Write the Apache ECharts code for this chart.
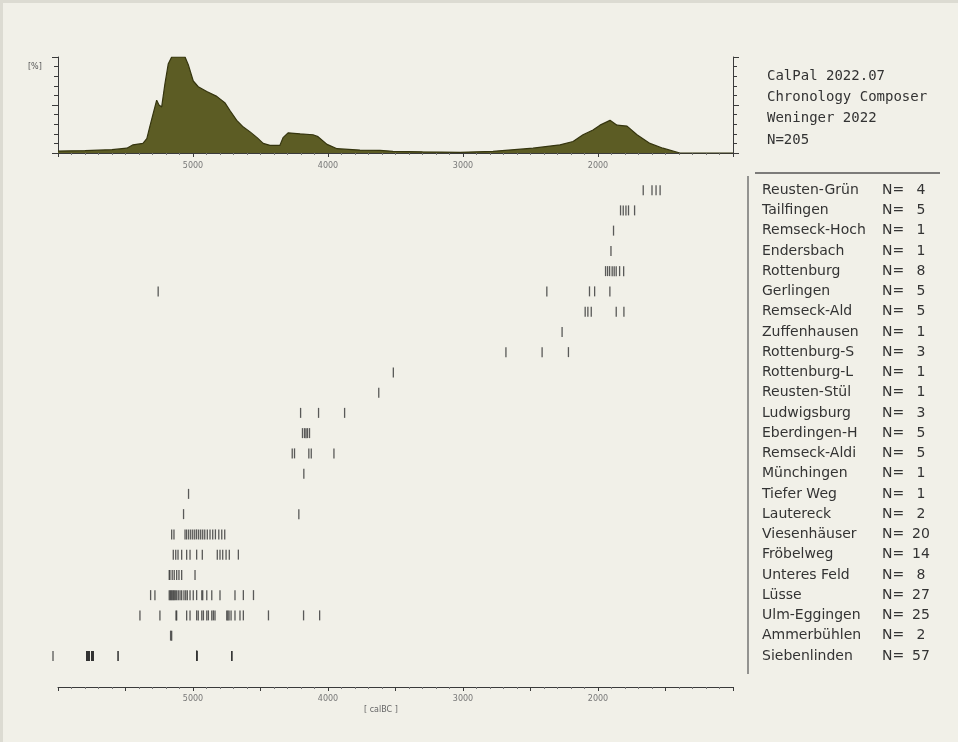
<!DOCTYPE html>
<html>
<head>
<meta charset="utf-8">
<script src="https://cdn.jsdelivr.net/npm/echarts@6/dist/echarts.min.js"></script>
<style>
html,body{margin:0;padding:0;background:#f1f0e8;}
#chart{width:958px;height:742px;}
</style>
</head>
<body>
<div id="chart"></div>
<script>
// ---- Summed probability density (calBC, % of peak) ----
const densityYears = [6000,5800,5600,5490,5444,5371,5342,5319,5297,5269,5252,5232,5208,5183,5158,5100,5059,5035,4998,4961,4898,4824,4762,4725,4676,4627,4577,4525,4480,4430,4356,4333,4296,4207,4111,4074,4007,3933,3763,3615,3519,3300,3022,2778,2481,2281,2185,2111,2037,1985,1911,1859,1785,1711,1615,1519,1393,1000];
const densityValues = [2,2.5,3.5,5,8.5,10,15,28,40,55,50,48,72,93,100,100,100,92,75,69,64,59,52,44,34,27,22,16,10,8,8,16,21,20,19,17,9,4.5,3,2.8,1.7,1.2,0.7,1.7,5,8.5,12,19,24,29,34,29,28,19,10,5,0,0];

// ---- Sites and counts ----
const siteNames = ['Reusten-Grün','Tailfingen','Remseck-Hoch','Endersbach','Rottenburg','Gerlingen','Remseck-Ald','Zuffenhausen','Rottenburg-S','Rottenburg-L','Reusten-Stül','Ludwigsburg','Eberdingen-H','Remseck-Aldi','Münchingen','Tiefer Weg','Lautereck','Viesenhäuser','Fröbelweg','Unteres Feld','Lüsse','Ulm-Eggingen','Ammerbühlen','Siebenlinden'];
const siteCounts = [4,5,1,1,8,5,5,1,3,1,1,3,5,5,1,1,2,20,14,8,27,25,2,57];

// ---- Dates per site (calBC) ----
const reustenGruen = [1665,1600,1570,1540];
const tailfingen = [1833,1813,1793,1774,1729];
const remseckHoch = [1885];
const endersbach = [1904];
const rottenburg = [1944,1929,1914,1895,1880,1865,1840,1810];
const gerlingen = [5258,2379,2063,2025,1912];
const remseckAld = [2095,2075,2050,1865,1808];
const zuffenhausen = [2266];
const rottenburgS = [2682,2414,2219];
const rottenburgL = [3516];
const reustenStuel = [3624];
const ludwigsburg = [4203,4070,3877];
const eberdingenH = [4189,4174,4163,4152,4137];
const remseckAldi = [4265,4248,4142,4124,3956];
const muenchingen = [4179];
const tieferWeg = [5033];
const lautereck = [5070,4216];
const viesenhaeuser = [5158,5141,5059,5047,5032,5017,5002,4987,4973,4958,4943,4928,4913,4894,4874,4854,4834,4809,4787,4765];
const froebelweg = [5146,5128,5111,5084,5047,5022,4973,4931,4820,4800,4780,4755,4731,4664];
const unteresFeld = [5176,5171,5154,5139,5121,5104,5084,4985];
const luesse = [5314,5282,5176,5168,5161,5154,5146,5139,5131,5121,5109,5096,5084,5067,5054,5042,5022,4998,4973,4935,4928,4898,4861,4800,4689,4627,4552];
const ulmEggingen = [5393,5245,5126,5121,5047,5022,4973,4961,4935,4923,4898,4886,4861,4849,4837,4750,4742,4733,4718,4689,4652,4627,4441,4181,4062];
const ammerbuehlen = [5166,5158];
const siebenlinden = [6037,
  5787,5787,5787,5787,5787,5787,5787,5787,5787,5787,5787,5787,
  5772,5772,5772,5772,5772,5772,5772,5772,5772,5772,
  5750,5750,5750,5750,5750,5750,5750,5750,5750,5750,5750,5750,
  5742,5742,5742,5742,5742,5742,5742,5742,
  5555,5555,
  4973,4973,4973,4973,4973,4973,4973,4973,
  4713,4713,4713];

const siteDates = [reustenGruen,tailfingen,remseckHoch,endersbach,rottenburg,gerlingen,remseckAld,zuffenhausen,rottenburgS,rottenburgL,reustenStuel,ludwigsburg,eberdingenH,remseckAldi,muenchingen,tieferWeg,lautereck,viesenhaeuser,froebelweg,unteresFeld,luesse,ulmEggingen,ammerbuehlen,siebenlinden];

const infoLines = ['CalPal 2022.07','Chronology Composer','Weninger 2022','N=205'];

// ---- build ----
const densityData = densityYears.map((y,i)=>[y,densityValues[i]]);
const tickData = [];
siteDates.forEach((arr,i)=>arr.forEach(v=>tickData.push([v,i])));

const chart = echarts.init(document.getElementById('chart'));
const axisCol = '#3a3a3a';
const lblCol = '#777';
const legendFont = '"DejaVu Sans", Arial';

const graphics = [
  {type:'rect', shape:{x:0,y:0,width:958,height:3}, style:{fill:'#dcdbd2'}, silent:true},
  {type:'rect', shape:{x:0,y:0,width:3,height:742}, style:{fill:'#dcdbd2'}, silent:true},
  {type:'line', shape:{x1:748,y1:176,x2:748,y2:674}, style:{stroke:'#555',lineWidth:1.2}, silent:true},
  {type:'line', shape:{x1:755,y1:173,x2:940,y2:173}, style:{stroke:'#555',lineWidth:1.5}, silent:true},
  {type:'text', left:28, top:63, style:{text:'[%]', fill:'#555', font:'8px "DejaVu Sans"'}},
  {type:'text', left:364, top:706, style:{text:'[ calBC ]', fill:'#666', font:'8px "DejaVu Sans"'}}
];
infoLines.forEach((t,i)=>{
  graphics.push({type:'text', left:767, top:69 + i*21.3, style:{text:t, fill:'#333', font:'14px "DejaVu Sans Mono"'}});
});

chart.setOption({
  backgroundColor:'#f1f0e8',
  animation:false,
  grid:[
    {left:58, width:675, top:57, height:96},
    {left:58, width:675, top:180, height:486}
  ],
  xAxis:[
    {gridIndex:0, type:'value', min:1000, max:6000, inverse:true, interval:1000,
     axisLine:{show:true, onZero:false, lineStyle:{color:axisCol,width:1}},
     axisTick:{show:true, length:4, lineStyle:{color:axisCol}},
     minorTick:{show:true, splitNumber:10, length:2, lineStyle:{color:'#777'}},
     axisLabel:{margin:9, fontSize:8, color:lblCol, fontFamily:'DejaVu Sans',
       formatter:v=> (v===6000||v===1000)?'':String(v)},
     splitLine:{show:false}},
    {gridIndex:1, type:'value', min:1000, max:6000, inverse:true, interval:500, position:'bottom', offset:21,
     axisLine:{show:true, onZero:false, lineStyle:{color:axisCol,width:1}},
     axisTick:{show:true, length:4, lineStyle:{color:axisCol}},
     minorTick:{show:true, splitNumber:5, length:2, lineStyle:{color:'#777'}},
     axisLabel:{margin:8, fontSize:8, color:lblCol, fontFamily:'DejaVu Sans',
       formatter:v=> (v%1000!==0||v===6000||v===1000)?'':String(v)},
     splitLine:{show:false}}
  ],
  yAxis:[
    {gridIndex:0, type:'value', min:0, max:100, interval:50, position:'left',
     axisLine:{show:true, lineStyle:{color:axisCol}},
     axisTick:{show:true, length:6, lineStyle:{color:axisCol}},
     minorTick:{show:true, splitNumber:5, length:4, lineStyle:{color:axisCol}},
     axisLabel:{show:false}, splitLine:{show:false}},
    {gridIndex:0, type:'value', min:0, max:100, interval:50, position:'right',
     axisLine:{show:true, lineStyle:{color:axisCol}},
     axisTick:{show:true, length:6, lineStyle:{color:axisCol}},
     minorTick:{show:true, splitNumber:5, length:4, lineStyle:{color:axisCol}},
     axisLabel:{show:false}, splitLine:{show:false}},
    {gridIndex:1, type:'category', data:siteNames, inverse:true, position:'right',
     axisLine:{show:false}, axisTick:{show:false}, splitLine:{show:false},
     axisLabel:{interval:0, margin:29, align:'left',
       formatter:(v,i)=>`{a|${v}}{b|N=}{c|${siteCounts[i]}}`,
       rich:{
         a:{width:120, fontSize:14, color:'#333', fontFamily:legendFont},
         b:{width:26, fontSize:14, color:'#333', fontFamily:legendFont},
         c:{width:26, fontSize:14, color:'#333', align:'center', fontFamily:legendFont}
       }}}
  ],
  series:[
    {type:'line', xAxisIndex:0, yAxisIndex:0, data:densityData, symbol:'none', smooth:false,
     lineStyle:{color:'#35350f', width:1.2},
     areaStyle:{color:'#5c5c24', opacity:1}, silent:true},
    {type:'scatter', xAxisIndex:1, yAxisIndex:2, data:tickData, symbol:'rect', symbolSize:[1.3,10],
     itemStyle:{color:'#333'}, clip:false, silent:true}
  ],
  graphic:graphics
});
</script>
</body>
</html>
